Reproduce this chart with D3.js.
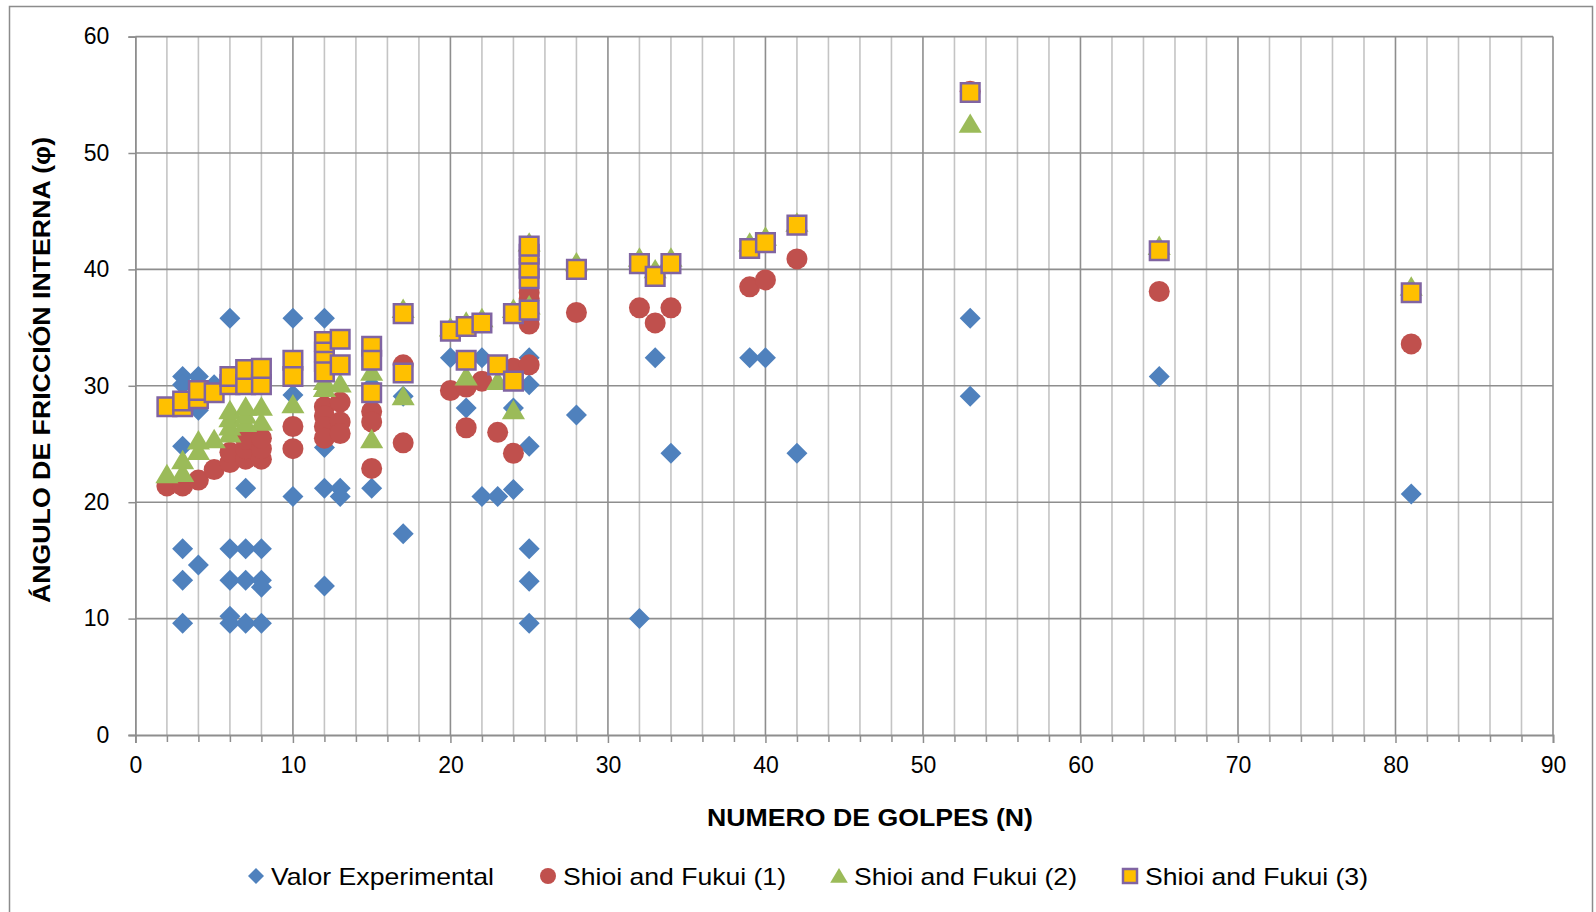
<!DOCTYPE html>
<html lang="es">
<head>
<meta charset="utf-8">
<title>Ángulo de fricción interna vs número de golpes</title>
<script src="https://cdn.jsdelivr.net/npm/d3@7"></script>
<style>
  body { margin: 0; background: #fff; }
  svg text { font-family: "Liberation Sans", Arial, sans-serif; fill: #000; }
</style>
</head>
<body>
<svg width="1596" height="912"></svg>
<script>
// ---- datos: [N, phi] ----
var valorExperimental = [
  [3,30.8],[3,30.1],[3,24.8],[3,16.0],[3,13.3],[3,9.6],
  [4,30.8],[4,27.9],[4,14.6],[5,30.1],
  [6,35.8],[6,30.8],[6,16.0],[6,13.3],[6,10.2],[6,9.6],
  [7,21.2],[7,16.0],[7,13.3],[7,9.6],
  [8,16.0],[8,13.3],[8,12.7],[8,9.6],
  [10,35.8],[10,29.2],[10,20.5],
  [12,35.8],[12,24.7],[12,21.2],[12,12.8],
  [13,21.2],[13,20.5],[15,30.0],[15,21.2],[17,29.1],[17,17.3],
  [20,32.4],[21,28.1],[22,32.4],[22,20.5],[23,20.5],[24,28.1],[24,21.1],
  [25,32.4],[25,30.1],[25,24.8],[25,16.0],[25,13.2],[25,9.6],
  [28,27.5],[32,10.0],[33,32.4],[34,24.2],[39,32.4],[40,32.4],[42,24.2],
  [53,35.8],[53,29.1],[65,30.8],[81,20.7]
];

var shioiFukui1 = [
  [2,21.4],[3,21.4],[4,21.9],[5,22.8],
  [6,23.4],[6,24.3],[7,23.7],[7,24.6],[7,25.4],[8,23.7],[8,24.6],[8,25.5],
  [10,26.5],[10,24.6],[12,28.2],[12,27.4],[12,26.5],[12,25.5],
  [13,28.6],[13,26.9],[13,25.9],[15,27.8],[15,26.9],[15,22.9],
  [17,31.8],[17,25.1],[20,29.6],[21,29.9],[21,26.4],[22,30.4],[23,26.0],
  [24,31.5],[24,24.2],[25,31.8],[25,35.3],[25,37.5],[25,38.0],
  [28,36.3],[32,36.7],[33,35.4],[34,36.7],[39,38.5],[40,39.1],[42,40.9],
  [53,55.3],[65,38.1],[81,33.6]
];

var shioiFukui2 = [
  [2,22.4],[3,22.5],[3,23.6],[4,24.4],[4,25.3],[5,25.4],
  [6,25.9],[6,26.5],[6,27.2],[6,27.9],[7,26.8],[7,27.5],[7,28.2],[8,26.9],[8,28.2],
  [10,28.4],[12,29.8],[12,30.4],[13,30.2],[15,31.2],[15,25.4],
  [17,29.1],[17,36.6],[20,35.0],[21,30.8],[21,35.5],[22,35.8],[23,30.4],
  [24,27.9],[24,36.6],[25,36.9],[25,42.3],[28,40.6],[32,41.0],[33,40.0],[34,41.0],
  [39,42.3],[40,42.8],[42,44.0],[53,52.5],[65,42.0],[81,38.5]
];

var shioiFukui3 = [
  [2,28.2],[3,28.2],[3,28.7],[4,28.9],[4,29.6],[5,29.4],
  [6,30.1],[6,30.8],[7,30.1],[7,31.4],[8,30.1],[8,31.5],
  [10,32.2],[10,30.8],[12,33.8],[12,32.9],[12,32.1],[12,31.2],
  [13,34.0],[13,31.8],[15,33.4],[15,32.2],[15,29.4],[17,36.2],[17,31.1],
  [20,34.7],[21,35.1],[21,32.2],[22,35.4],[23,31.8],[24,36.2],[24,30.4],
  [25,36.5],[25,39.2],[25,40.1],[25,41.3],[25,42.0],
  [28,40.0],[32,40.5],[33,39.4],[34,40.5],[39,41.8],[40,42.3],[42,43.8],
  [53,55.2],[65,41.6],[81,38.0]
];

var seriesNames = ["Valor Experimental", "Shioi and Fukui (1)", "Shioi and Fukui (2)", "Shioi and Fukui (3)"];
var xTicks = [0,10,20,30,40,50,60,70,80,90];
var yTicks = [0,10,20,30,40,50,60];

var svg = d3.select("svg"),
    plotLeft = 135.4, plotRight = 1553, plotTop = 36.6, plotBottom = 735;

var x = d3.scaleLinear().domain([0, 90]).range([plotLeft, plotRight]);
var y = d3.scaleLinear().domain([0, 60]).range([plotBottom, plotTop]);

// marco exterior
svg.append("rect")
    .attr("x", 9.5).attr("y", 6.5)
    .attr("width", 1583).attr("height", 920)
    .attr("fill", "none").attr("stroke", "#8c8c8c").attr("stroke-width", 1.5);

// rejilla
var minorX = d3.range(2, 90, 2).filter(function(d) { return d % 10 !== 0; });
svg.append("g").selectAll("line").data(minorX).enter().append("line")
    .attr("x1", x).attr("x2", x).attr("y1", plotTop).attr("y2", plotBottom)
    .attr("stroke", "#c4c4c4").attr("stroke-width", 1.6);
svg.append("g").selectAll("line").data(xTicks.slice(1)).enter().append("line")
    .attr("x1", x).attr("x2", x).attr("y1", plotTop).attr("y2", plotBottom)
    .attr("stroke", "#8e8e8e").attr("stroke-width", 1.6);
svg.append("g").selectAll("line").data(yTicks.slice(1)).enter().append("line")
    .attr("x1", plotLeft).attr("x2", plotRight).attr("y1", y).attr("y2", y)
    .attr("stroke", "#8e8e8e").attr("stroke-width", 1.6);

// ejes
svg.append("g")
    .attr("transform", "translate(0," + plotBottom + ")")
    .call(d3.axisBottom(x).tickValues(xTicks).tickSize(8).tickPadding(14));
svg.append("g")
    .attr("transform", "translate(0," + plotBottom + ")")
    .call(d3.axisBottom(x).tickValues(minorX).tickSize(7).tickFormat(""))
    .select(".domain").remove();
svg.append("g")
    .attr("transform", "translate(" + plotLeft + ",0)")
    .call(d3.axisLeft(y).tickValues(yTicks).tickSize(7).tickPadding(19));
svg.selectAll(".domain").attr("stroke", "#8e8e8e").attr("stroke-width", 1.8);
svg.selectAll(".tick line").attr("stroke", "#8e8e8e").attr("stroke-width", 1.5);
svg.selectAll(".tick text").style("font-size", "23px").attr("fill", "#000");

// titulos
svg.append("text")
    .attr("x", 870).attr("y", 826)
    .attr("text-anchor", "middle")
    .attr("textLength", 326).attr("lengthAdjust", "spacingAndGlyphs")
    .style("font-size", "24px").style("font-weight", "bold")
    .text("NUMERO  DE GOLPES (N)");
svg.append("text")
    .attr("transform", "translate(50,370) rotate(-90)")
    .attr("text-anchor", "middle")
    .attr("textLength", 466).attr("lengthAdjust", "spacingAndGlyphs")
    .style("font-size", "23px").style("font-weight", "bold")
    .text("ÁNGULO DE FRICCIÓN INTERNA (φ)");

// marcadores
var colors = ["#4f81bd", "#c0504d", "#9bbb59", "#ffc000"];
function diamond(r) { return "M0," + (-r) + "L" + r + ",0L0," + r + "L" + (-r) + ",0Z"; }
function circle(r) { return d3.symbol(d3.symbolCircle, Math.PI * r * r)(); }
function triangle(r) { return "M0," + (-r) + "L" + (r * 1.1) + "," + (r * 0.85) + "L" + (-r * 1.1) + "," + (r * 0.85) + "Z"; }
function square(r) { return "M" + (-r) + "," + (-r) + "h" + (2 * r) + "v" + (2 * r) + "h" + (-2 * r) + "Z"; }
var shapes = [diamond, circle, triangle, square];
var sizes = [10.5, 10.5, 10.5, 9.3];

var plot = svg.append("g");
[valorExperimental, shioiFukui1, shioiFukui2, shioiFukui3].forEach(function(data, i) {
  plot.append("g").selectAll("path").data(data).enter().append("path")
      .attr("transform", function(d) { return "translate(" + x(d[0]) + "," + y(d[1]) + ")"; })
      .attr("d", shapes[i](sizes[i]))
      .attr("fill", colors[i])
      .attr("stroke", i === 3 ? "#8064a2" : "none")
      .attr("stroke-width", i === 3 ? 2.5 : 0);
});

// leyenda
var legendX = [256, 548, 839, 1130];
var legend = svg.append("g").selectAll("g").data(seriesNames).enter().append("g")
    .attr("transform", function(d, i) { return "translate(" + legendX[i] + ",876)"; });
legend.append("path")
    .attr("d", function(d, i) { return shapes[i](i === 3 ? 7 : 8); })
    .attr("fill", function(d, i) { return colors[i]; })
    .attr("stroke", function(d, i) { return i === 3 ? "#8064a2" : "none"; })
    .attr("stroke-width", 2.5);
legend.append("text")
    .attr("x", 15).attr("y", 9)
    .attr("textLength", 223).attr("lengthAdjust", "spacingAndGlyphs")
    .style("font-size", "24px")
    .text(function(d) { return d; });
</script>
</body>
</html>
